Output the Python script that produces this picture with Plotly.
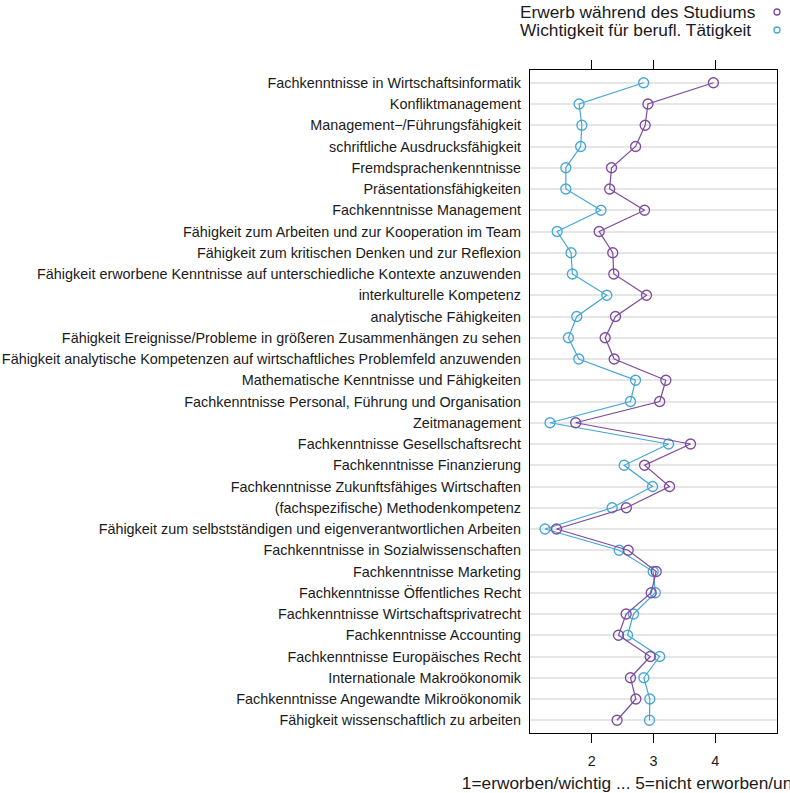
import plotly.graph_objects as go

categories = [
    "Fachkenntnisse in Wirtschaftsinformatik",
    "Konfliktmanagement",
    "Management\u2212/Führungsfähigkeit",
    "schriftliche Ausdrucksfähigkeit",
    "Fremdsprachenkenntnisse",
    "Präsentationsfähigkeiten",
    "Fachkenntnisse Management",
    "Fähigkeit zum Arbeiten und zur Kooperation im Team",
    "Fähigkeit zum kritischen Denken und zur Reflexion",
    "Fähigkeit erworbene Kenntnisse auf unterschiedliche Kontexte anzuwenden",
    "interkulturelle Kompetenz",
    "analytische Fähigkeiten",
    "Fähigkeit Ereignisse/Probleme in größeren Zusammenhängen zu sehen",
    "Fähigkeit analytische Kompetenzen auf wirtschaftliches Problemfeld anzuwenden",
    "Mathematische Kenntnisse und Fähigkeiten",
    "Fachkenntnisse Personal, Führung und Organisation",
    "Zeitmanagement",
    "Fachkenntnisse Gesellschaftsrecht",
    "Fachkenntnisse Finanzierung",
    "Fachkenntnisse Zukunftsfähiges Wirtschaften",
    "(fachspezifische) Methodenkompetenz",
    "Fähigkeit zum selbstständigen und eigenverantwortlichen Arbeiten",
    "Fachkenntnisse in Sozialwissenschaften",
    "Fachkenntnisse Marketing",
    "Fachkenntnisse Öffentliches Recht",
    "Fachkenntnisse Wirtschaftsprivatrecht",
    "Fachkenntnisse Accounting",
    "Fachkenntnisse Europäisches Recht",
    "Internationale Makroökonomik",
    "Fachkenntnisse Angewandte Mikroökonomik",
    "Fähigkeit wissenschaftlich zu arbeiten",
]

erwerb = [3.97, 2.91, 2.865, 2.71, 2.32, 2.29, 2.855, 2.12, 2.34, 2.357,
          2.887, 2.384, 2.217, 2.363, 3.20, 3.10, 1.74, 3.60, 2.855, 3.26,
          2.56, 1.43, 2.59, 3.044, 2.963, 2.557, 2.433, 2.947, 2.627, 2.714, 2.41]

wichtigkeit = [2.84, 1.795, 1.84, 1.82, 1.58, 1.58, 2.15, 1.44, 1.665, 1.686,
               2.244, 1.757, 1.622, 1.79, 2.709, 2.627, 1.324, 3.244, 2.525, 2.985,
               2.33, 1.243, 2.444, 2.995, 3.03, 2.676, 2.58, 3.10, 2.844, 2.94, 2.935]

series_names = ["Erwerb während des Studiums", "Wichtigkeit für berufl. Tätigkeit"]
colors = ["#7d4a9f", "#45a6d6"]
x_ticks = [2, 3, 4]
x_title = "1=erworben/wichtig ... 5=nicht erworben/unwichtig"

FONT = "Liberation Sans, Arial, sans-serif"

fig = go.Figure()
for name, vals, col in [(series_names[1], wichtigkeit, colors[1]), (series_names[0], erwerb, colors[0])]:
    fig.add_trace(go.Scatter(
        x=vals, y=categories, mode="lines+markers", name=name,
        line=dict(color=col, width=1.2),
        marker=dict(symbol="circle-open", size=10, color=col, line=dict(width=1.3, color=col)),
        showlegend=False,
    ))

# legend drawn as text + circles (symbols right of text)
leg_y = [12, 30]
for i, name in enumerate(series_names):
    ypaper = 1 + (70 - leg_y[i]) / 663
    fig.add_annotation(text=name, xref="paper", yref="paper", x=-0.0486, y=ypaper,
                       xanchor="left", yanchor="middle", showarrow=False,
                       font=dict(size=17.3, color="#1a1a1a", family=FONT))
    fig.add_shape(type="circle", xref="paper", yref="paper", xsizemode="pixel", ysizemode="pixel",
                  xanchor=1.0, yanchor=ypaper, x0=-3, x1=3, y0=-3, y1=3,
                  line=dict(color=colors[i], width=1.3))

fig.update_layout(
    width=790, height=793,
    margin=dict(l=530, r=13, t=70, b=60, autoexpand=False),
    paper_bgcolor="white", plot_bgcolor="white",
    font=dict(family=FONT, size=14.4, color="#1a1a1a"),
    xaxis=dict(range=[1, 5], tickvals=x_ticks, ticks="outside", ticklen=9, tickcolor="black",
               showline=True, linecolor="black", linewidth=1.2, mirror="ticks",
               showgrid=False, zeroline=False, automargin=False,
               ticklabelstandoff=6,
               title=dict(text=x_title, font=dict(size=17.3), standoff=12),
               tickfont=dict(size=14.4)),
    yaxis=dict(type="category", categoryorder="array", categoryarray=categories,
               range=[30.6, -0.6], showline=True, linecolor="black", linewidth=1.2, mirror=True,
               showgrid=True, gridcolor="#e6e6e6", gridwidth=2, ticks="", automargin=False,
               ticklabelstandoff=5, tickfont=dict(size=14.4)),
)

fig.write_html("out.html", config={"displayModeBar": False},
               post_script="document.body.style.margin='0px';")
